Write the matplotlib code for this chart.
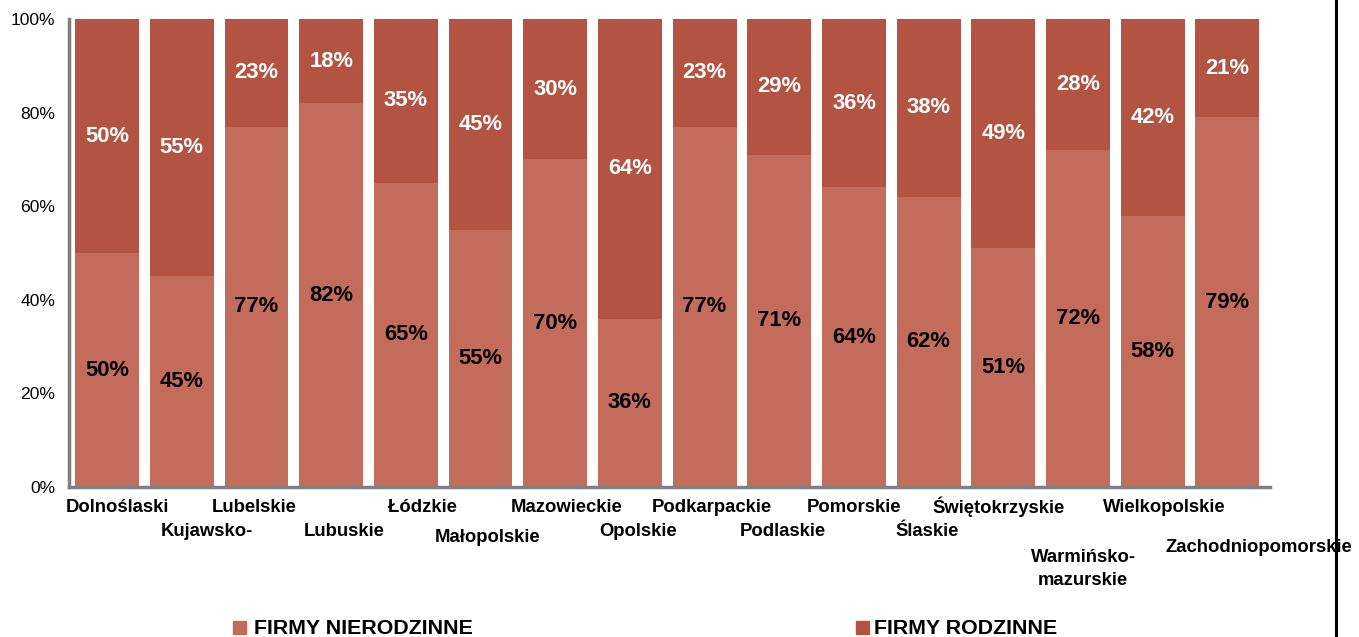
import numpy as np
import matplotlib.pyplot as plt
from matplotlib.lines import Line2D
from matplotlib.patches import Rectangle

plt.rcParams['font.family'] = ['Liberation Sans', 'DejaVu Sans']

# regions (text as printed on the chart)
regions = ['Dolnoślaski', 'Kujawsko-', 'Lubelskie', 'Lubuskie', 'Łódzkie',
           'Małopolskie', 'Mazowieckie', 'Opolskie', 'Podkarpackie', 'Podlaskie',
           'Pomorskie', 'Ślaskie', 'Świętokrzyskie', 'Warmińsko-\nmazurskie',
           'Wielkopolskie', 'Zachodniopomorskie']
nierodzinne = [50, 45, 77, 82, 65, 55, 70, 36, 77, 71, 64, 62, 51, 72, 58, 79]
rodzinne = [50, 55, 23, 18, 35, 45, 30, 64, 23, 29, 36, 38, 49, 28, 42, 21]
series_names = ['FIRMY NIERODZINNE', 'FIRMY RODZINNE']

# label layout: pixel shift from bar centre, pixel depth below the axis
lab_dx = [10, 25, -2, 13, 17, 7, 11, 8, 7, 4, 0, -2, -5, 5, 12, 31]
lab_dy = [20, 44, 20, 44, 20, 50, 20, 44, 20, 44, 20, 44, 20, 82, 20, 61]

c_light = '#C46C5B'
c_dark = '#B35341'

fig = plt.figure(figsize=(13.59, 6.37), dpi=100)
ax = fig.add_axes([69/1359, 150/637, (1270-69)/1359, (487-19)/637])

x = np.arange(len(regions))
w = 0.855
ax.bar(x, nierodzinne, w, color=c_light)
ax.bar(x, rodzinne, w, bottom=nierodzinne, color=c_dark)

for i in range(len(regions)):
    ax.text(x[i], nierodzinne[i] / 2, f'{nierodzinne[i]}%', ha='center', va='center',
            fontsize=15.8, fontweight='bold', color='black')
    ax.text(x[i], nierodzinne[i] + rodzinne[i] / 2, f'{rodzinne[i]}%', ha='center', va='center',
            fontsize=15.8, fontweight='bold', color='white')
    ax.annotate(regions[i], xy=(x[i], 0), xytext=(lab_dx[i], -lab_dy[i]),
                textcoords='offset pixels', ha='center', va='center',
                fontsize=13.3, fontweight='bold', color='black', linespacing=1.5,
                annotation_clip=False)

ax.set_xlim(-0.51, 15.57)
ax.set_ylim(0, 100)
ax.set_yticks(range(0, 101, 20))
ax.set_yticklabels([f'{v}%' for v in range(0, 101, 20)], fontsize=12.6)
ax.set_xticks([])
ax.tick_params(axis='y', length=0, pad=10)
for s in ['top', 'right']:
    ax.spines[s].set_visible(False)
for s in ['left', 'bottom']:
    ax.spines[s].set_color('#808080')
    ax.spines[s].set_linewidth(2.5)

# legend drawn by hand
for sx, tx, col, name in [(233, 254, c_light, series_names[0]), (856, 874, c_dark, series_names[1])]:
    fig.add_artist(Rectangle((sx/1359, (637-634)/637), 13/1359, 13/637,
                             transform=fig.transFigure, color=col))
    fig.text(tx/1359, (637-628)/637, name, ha='left', va='center',
             fontsize=15.4, fontweight='bold')

# frame line on the right
fig.add_artist(Line2D([1336/1359, 1336/1359], [0, 1], color='black', lw=2.2,
                      transform=fig.transFigure))

fig.savefig('out.png', dpi=100)
